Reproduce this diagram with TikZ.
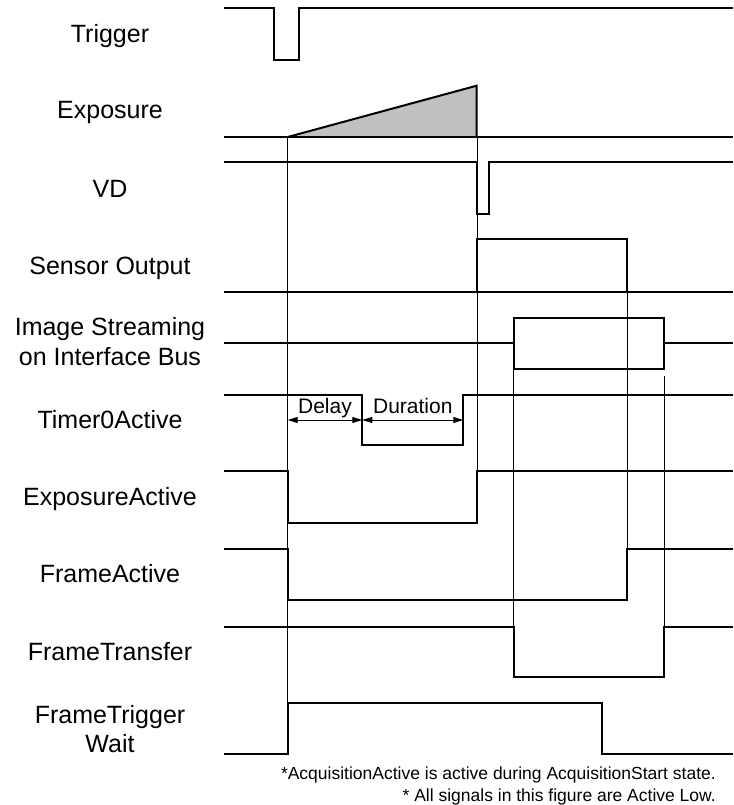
\documentclass[tikz,border=0pt]{standalone}
\usepackage{fontspec}
\setmainfont{Liberation Sans}
\usetikzlibrary{arrows.meta}
\definecolor{expgray}{RGB}{192,192,192}
\begin{document}
\begin{tikzpicture}[x=1pt,y=-1pt,
  sig/.style={line width=2pt,line join=miter},
  guide/.style={line width=0.9pt},
  lbl/.style={font=\fontsize{25}{29.3}\selectfont,align=center,anchor=base,inner sep=0pt},
  dim/.style={line width=0.9pt,{Triangle[length=10pt,width=6pt]}-{Triangle[length=10pt,width=6pt]}},
  dimlbl/.style={font=\fontsize{21}{25}\selectfont,anchor=base,inner sep=0pt},
  note/.style={font=\fontsize{17.5}{21.7}\selectfont,align=right,anchor=base east,inner sep=0pt}]
\useasboundingbox (0,0) rectangle (733,805);

% labels
\node[lbl] (lTrig) at (110,42.3) {Trigger};
\node[lbl] (lExp) at (110,119) {Exposure};
\node[lbl] (lVD) at (110,197.3) {VD};
\node[lbl] (lSens) at (110,274.4) {Sensor Output};
\node[lbl] (lStream) at (110,365) {Image Streaming\\on Interface Bus};
\node[lbl] (lT0) at (110,428.3) {Timer0Active};
\node[lbl] (lEA) at (110,505.7) {ExposureActive};
\node[lbl] (lFA) at (110,582.3) {FrameActive};
\node[lbl] (lFT) at (110,660) {FrameTransfer};
\node[lbl] (lFTW) at (110,752.3) {FrameTrigger\\Wait};

% guide lines
\draw[guide] (287.7,137) -- (287.7,703);
\draw[guide] (477,137) -- (477,471.3);
\draw[guide] (627.3,291.5) -- (627.3,549);
\draw[guide] (513.7,369) -- (513.7,626.7);
\draw[guide] (664.3,376) -- (664.3,626.7);

% Trigger
\draw[sig] (224,8) -- (274,8) -- (274,60) -- (299,60) -- (299,8) -- (733,8);
% Exposure
\fill[expgray] (287.7,137) -- (476.7,85.7) -- (476.7,137) -- cycle;
\draw[sig] (224,137) -- (733,137);
\draw[sig] (287.7,137) -- (476.7,85.7) -- (476.7,137);
% VD
\draw[sig] (224,162) -- (477,162) -- (477,213.7) -- (488.7,213.7) -- (488.7,162) -- (733,162);
% Sensor Output
\draw[sig] (224,291.5) -- (733,291.5);
\draw[sig] (477,291.5) -- (477,239.3) -- (627.3,239.3) -- (627.3,291.5);
% Image Streaming
\draw[sig] (224,343) -- (513.7,343);
\draw[sig] (664.3,343) -- (733,343);
\draw[sig] (513.7,317.7) rectangle (664.3,369);
% Timer0Active
\draw[sig] (224,395) -- (362.3,395) -- (362.3,445) -- (463.3,445) -- (463.3,395) -- (733,395);
\draw[dim] (287.7,420) -- (362.3,420);
\draw[dim] (362.3,420) -- (463.3,420);
\node[dimlbl] (dDelay) at (325,413.3) {Delay};
\node[dimlbl] (dDur) at (412.8,413.3) {Duration};
% ExposureActive
\draw[sig] (224,471.3) -- (287.7,471.3) -- (287.7,523) -- (477,523) -- (477,471.3) -- (733,471.3);
% FrameActive
\draw[sig] (224,549) -- (287.7,549) -- (287.7,600.3) -- (627.3,600.3) -- (627.3,549) -- (733,549);
% FrameTransfer
\draw[sig] (224,626.7) -- (513.7,626.7) -- (513.7,676.7) -- (664.3,676.7) -- (664.3,626.7) -- (733,626.7);
% FrameTriggerWait
\draw[sig] (224,754.3) -- (287.7,754.3) -- (287.7,703) -- (601.7,703) -- (601.7,754.3) -- (733,754.3);

% notes
\node[note] (nA) at (716,779.3) {*AcquisitionActive is active during AcquisitionStart state.};
\node[note] (nB) at (716,801) {* All signals in this figure are Active Low.};
\end{tikzpicture}
\end{document}
